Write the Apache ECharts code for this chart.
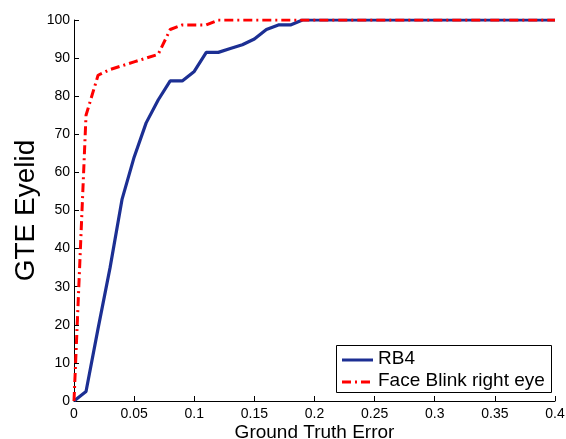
<!DOCTYPE html>
<html><head><meta charset="utf-8">
<script src="https://cdn.jsdelivr.net/npm/echarts@6/dist/echarts.min.js"></script>
<style>html,body{margin:0;padding:0;background:#fff}#c{width:566px;height:439px}</style>
</head><body><div id="c"></div>
<script>
const rb4X = [0,0.01,0.02,0.03,0.04,0.05,0.06,0.07,0.08,0.09,0.10,0.11,0.12,0.13,0.14,0.15,0.16,0.17,0.18,0.19,0.20,0.25,0.30,0.35,0.40];
const rb4Y = [0,2.5,19,35,53,64,73,79,84,84,86.5,91.5,91.5,92.5,93.5,95,97.5,98.7,98.7,100,100,100,100,100,100];
const fbX = [0,0.01,0.02,0.03,0.04,0.05,0.06,0.07,0.08,0.09,0.10,0.11,0.12,0.20,0.30,0.40];
const fbY = [0,75,85.5,87,88,89,90,91,97.5,98.7,98.7,98.7,100,100,100,100];
const seriesNames = ['RB4','Face Blink right eye'];
const xTitle = 'Ground Truth Error';
const yTitle = 'GTE Eyelid';

const font = 'Liberation Sans, Arial, sans-serif';
const blue = '#1c2f93', red = '#ff0000';
const redDash = [9,4,2,4];
const chart = echarts.init(document.getElementById('c'));
chart.setOption({
  animation:false,
  backgroundColor:'#fff',
  grid:{left:74,right:11,top:20,bottom:38,containLabel:false,outerBoundsMode:'none'},
  xAxis:{type:'value',min:0,max:0.4,interval:0.05,
    name:xTitle,nameLocation:'middle',nameGap:22,nameMoveOverlap:false,
    nameTextStyle:{fontFamily:font,fontSize:19,color:'#000'},
    axisLine:{lineStyle:{color:'#000',width:1}},
    axisTick:{inside:true,length:5,lineStyle:{color:'#000'}},
    axisLabel:{fontFamily:font,fontSize:14,color:'#000',margin:6},
    splitLine:{show:false}},
  yAxis:{type:'value',min:0,max:100,interval:10,
    name:yTitle,nameLocation:'middle',nameGap:34,nameMoveOverlap:false,
    nameTextStyle:{fontFamily:font,fontSize:28,color:'#000'},
    axisLine:{show:true,lineStyle:{color:'#000',width:1}},
    axisTick:{show:true,inside:true,length:5,lineStyle:{color:'#000'}},
    axisLabel:{fontFamily:font,fontSize:14,color:'#000',margin:4},
    splitLine:{show:false}},
  legend:{show:false},
  series:[
    {name:seriesNames[0],type:'line',symbol:'none',
      data:rb4X.map((x,i)=>[x,rb4Y[i]]),
      lineStyle:{color:blue,width:3.2},itemStyle:{color:blue},z:2},
    {name:seriesNames[1],type:'line',symbol:'none',
      data:fbX.map((x,i)=>[x,fbY[i]]),
      lineStyle:{color:red,width:3,type:redDash},itemStyle:{color:red},z:3}
  ],
  graphic:[
    {type:'rect',z:100,shape:{x:336.5,y:345.5,width:215,height:47},
      style:{fill:'#fff',stroke:'#000',lineWidth:1}},
    {type:'line',z:101,shape:{x1:342,y1:360,x2:373,y2:360},
      style:{stroke:blue,lineWidth:3}},
    {type:'line',z:101,shape:{x1:342,y1:382,x2:373,y2:382},
      style:{stroke:red,lineWidth:3,lineDash:redDash}},
    {type:'text',z:101,left:378,top:349,
      style:{text:seriesNames[0],font:'19px '+font,fill:'#000'}},
    {type:'text',z:101,left:378,top:371,
      style:{text:seriesNames[1],font:'19px '+font,fill:'#000'}}
  ]
});
</script></body></html>
